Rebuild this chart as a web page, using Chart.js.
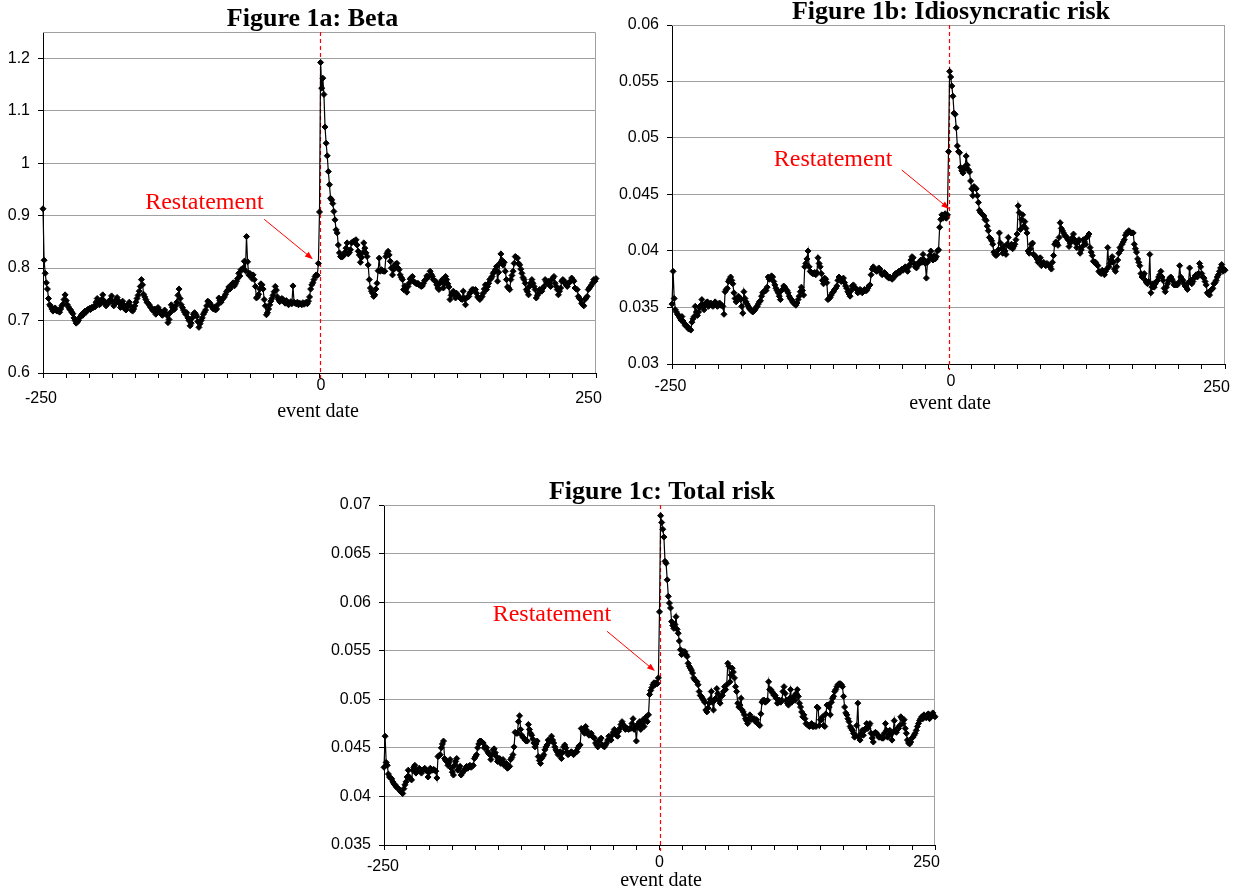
<!DOCTYPE html>
<html>
<head>
<meta charset="utf-8">
<title>Figure 1: Beta, idiosyncratic risk and total risk around restatements</title>
<script src="https://cdn.jsdelivr.net/npm/chart.js@4.4.0/dist/chart.umd.min.js"></script>
<style>
  html, body { margin: 0; padding: 0; background: #fff; }
  body { position: relative; width: 1241px; height: 893px; overflow: hidden; }
  canvas { position: absolute; }
</style>
</head>
<body>
<canvas id="beta" width="615" height="425" style="left:0;top:0"></canvas>
<canvas id="idio" width="626" height="425" style="left:615px;top:0"></canvas>
<canvas id="total" width="660" height="423" style="left:300px;top:470px"></canvas>
<script>
// event window: trading days relative to the restatement
const days = Array.from({ length: 501 }, (_, i) => i - 250);
const xTickLabels = ['-250', '0', '250'];

const betaTickLabels = ['0.6', '0.7', '0.8', '0.9', '1', '1.1', '1.2'];
const idioTickLabels = ['0.03', '0.035', '0.04', '0.045', '0.05', '0.055', '0.06'];
const totalTickLabels = ['0.035', '0.04', '0.045', '0.05', '0.055', '0.06', '0.065', '0.07'];

const betaValues = [
  // -250 .. -201
  0.913, 0.815, 0.790, 0.772, 0.760, 0.742, 0.730, 0.727, 0.722, 0.718,
  0.721, 0.724, 0.719, 0.718, 0.720, 0.716, 0.722, 0.728, 0.731, 0.740,
  0.749, 0.738, 0.730, 0.726, 0.722, 0.720, 0.716, 0.713, 0.705, 0.700,
  0.695, 0.697, 0.700, 0.705, 0.708, 0.712, 0.710, 0.715, 0.718, 0.716,
  0.720, 0.722, 0.723, 0.721, 0.725, 0.724, 0.727, 0.726, 0.735, 0.742,
  // -200 .. -151
  0.735, 0.730, 0.732, 0.740, 0.749, 0.738, 0.733, 0.728, 0.731, 0.736,
  0.735, 0.740, 0.747, 0.735, 0.728, 0.732, 0.740, 0.744, 0.738, 0.733,
  0.725, 0.730, 0.737, 0.730, 0.722, 0.720, 0.726, 0.730, 0.735, 0.728,
  0.720, 0.718, 0.722, 0.728, 0.735, 0.742, 0.748, 0.756, 0.765, 0.778,
  0.768, 0.750, 0.745, 0.740, 0.735, 0.733, 0.730, 0.726, 0.724, 0.720,
  // -150 .. -101
  0.718, 0.722, 0.712, 0.716, 0.725, 0.720, 0.718, 0.712, 0.710, 0.715,
  0.720, 0.714, 0.710, 0.696, 0.702, 0.715, 0.730, 0.725, 0.720, 0.722,
  0.728, 0.735, 0.748, 0.760, 0.742, 0.730, 0.725, 0.720, 0.716, 0.712,
  0.715, 0.705, 0.700, 0.690, 0.695, 0.705, 0.712, 0.715, 0.712, 0.708,
  0.698, 0.687, 0.694, 0.700, 0.705, 0.712, 0.716, 0.720, 0.728, 0.737,
  // -100 .. -51
  0.735, 0.733, 0.728, 0.725, 0.722, 0.726, 0.720, 0.722, 0.730, 0.743,
  0.738, 0.735, 0.740, 0.743, 0.745, 0.750, 0.755, 0.758, 0.764, 0.760,
  0.765, 0.770, 0.772, 0.766, 0.770, 0.775, 0.780, 0.790, 0.785, 0.797,
  0.797, 0.800, 0.813, 0.795, 0.860, 0.812, 0.787, 0.790, 0.785, 0.780,
  0.787, 0.778, 0.765, 0.743, 0.745, 0.750, 0.760, 0.770, 0.768, 0.760,
  // -50 .. -1
  0.740, 0.728, 0.711, 0.715, 0.722, 0.730, 0.737, 0.742, 0.748, 0.755,
  0.765, 0.758, 0.745, 0.740, 0.736, 0.738, 0.742, 0.740, 0.735, 0.733,
  0.738, 0.735, 0.730, 0.733, 0.736, 0.732, 0.766, 0.735, 0.733, 0.732,
  0.735, 0.730, 0.733, 0.732, 0.730, 0.734, 0.731, 0.733, 0.735, 0.732,
  0.737, 0.745, 0.760, 0.768, 0.772, 0.778, 0.784, 0.787, 0.786, 0.809,
  // 0
  0.907,
  // 1 .. 50
  1.192, 1.143, 1.162, 1.131, 1.069, 1.038, 1.014, 0.984, 0.959, 0.933,
  0.930, 0.923, 0.908, 0.892, 0.873, 0.867, 0.844, 0.829, 0.822, 0.821,
  0.822, 0.825, 0.830, 0.838, 0.848, 0.827, 0.830, 0.835, 0.848, 0.850,
  0.851, 0.852, 0.854, 0.844, 0.832, 0.825, 0.811, 0.820, 0.829, 0.848,
  0.838, 0.829, 0.822, 0.806, 0.778, 0.762, 0.756, 0.752, 0.746, 0.749,
  // 51 .. 100
  0.760, 0.771, 0.795, 0.819, 0.794, 0.797, 0.795, 0.794, 0.794, 0.822,
  0.828, 0.832, 0.825, 0.813, 0.800, 0.787, 0.797, 0.806, 0.808, 0.809,
  0.800, 0.797, 0.787, 0.782, 0.778, 0.759, 0.766, 0.760, 0.754, 0.765,
  0.771, 0.779, 0.782, 0.784, 0.775, 0.773, 0.771, 0.770, 0.771, 0.768,
  0.767, 0.765, 0.766, 0.771, 0.776, 0.778, 0.785, 0.783, 0.784, 0.794,
  // 101 .. 150
  0.788, 0.784, 0.778, 0.776, 0.775, 0.768, 0.762, 0.759, 0.771, 0.774,
  0.778, 0.762, 0.770, 0.784, 0.778, 0.770, 0.764, 0.740, 0.748, 0.752,
  0.756, 0.750, 0.743, 0.752, 0.748, 0.746, 0.743, 0.741, 0.740, 0.756,
  0.742, 0.730, 0.743, 0.745, 0.746, 0.752, 0.755, 0.759, 0.759, 0.758,
  0.759, 0.752, 0.745, 0.743, 0.740, 0.744, 0.746, 0.752, 0.760, 0.768,
  // 151 .. 200
  0.759, 0.765, 0.771, 0.778, 0.780, 0.784, 0.790, 0.793, 0.797, 0.803,
  0.775, 0.792, 0.809, 0.827, 0.815, 0.806, 0.811, 0.794, 0.778, 0.764,
  0.762, 0.759, 0.778, 0.786, 0.794, 0.809, 0.822, 0.820, 0.819, 0.809,
  0.806, 0.798, 0.790, 0.782, 0.778, 0.771, 0.759, 0.755, 0.749, 0.765,
  0.772, 0.778, 0.771, 0.765, 0.759, 0.743, 0.748, 0.752, 0.759, 0.756,
  // 201 .. 250
  0.756, 0.762, 0.765, 0.778, 0.774, 0.771, 0.775, 0.770, 0.765, 0.778,
  0.781, 0.784, 0.771, 0.765, 0.759, 0.749, 0.756, 0.762, 0.775, 0.778,
  0.776, 0.771, 0.768, 0.765, 0.771, 0.773, 0.775, 0.781, 0.778, 0.775,
  0.762, 0.760, 0.759, 0.746, 0.742, 0.740, 0.733, 0.730, 0.728, 0.740,
  0.743, 0.746, 0.759, 0.762, 0.765, 0.768, 0.772, 0.778, 0.775, 0.780
];

const idioValues = [
  // -250 .. -201
  0.0353, 0.0382, 0.0358, 0.0348, 0.0346, 0.0344, 0.0343, 0.0341, 0.0339, 0.0342,
  0.0338, 0.0336, 0.0334, 0.0334, 0.0333, 0.0331, 0.0331, 0.0330, 0.0337, 0.0340,
  0.0342, 0.0351, 0.0346, 0.0343, 0.0346, 0.0350, 0.0352, 0.0357, 0.0352, 0.0348,
  0.0352, 0.0354, 0.0355, 0.0351, 0.0353, 0.0354, 0.0352, 0.0351, 0.0352, 0.0355,
  0.0353, 0.0351, 0.0352, 0.0354, 0.0352, 0.0352, 0.0351, 0.0344, 0.0364, 0.0366,
  // -200 .. -151
  0.0367, 0.0373, 0.0375, 0.0377, 0.0374, 0.0371, 0.0363, 0.0358, 0.0355, 0.0358,
  0.0360, 0.0359, 0.0357, 0.0351, 0.0345, 0.0364, 0.0358, 0.0355, 0.0353, 0.0351,
  0.0349, 0.0348, 0.0347, 0.0346, 0.0347, 0.0348, 0.0350, 0.0351, 0.0353, 0.0355,
  0.0356, 0.0360, 0.0363, 0.0364, 0.0365, 0.0365, 0.0368, 0.0377, 0.0375, 0.0376,
  0.0378, 0.0377, 0.0373, 0.0370, 0.0367, 0.0365, 0.0363, 0.0360, 0.0357, 0.0365,
  // -150 .. -101
  0.0366, 0.0369, 0.0368, 0.0366, 0.0365, 0.0363, 0.0360, 0.0358, 0.0357, 0.0355,
  0.0354, 0.0353, 0.0352, 0.0354, 0.0357, 0.0360, 0.0364, 0.0368, 0.0365, 0.0361,
  0.0386, 0.0389, 0.0393, 0.0400, 0.0386, 0.0382, 0.0381, 0.0380, 0.0380, 0.0381,
  0.0379, 0.0381, 0.0394, 0.0389, 0.0386, 0.0380, 0.0374, 0.0371, 0.0376, 0.0375,
  0.0372, 0.0357, 0.0358, 0.0359, 0.0361, 0.0363, 0.0364, 0.0366, 0.0367, 0.0369,
  // -100 .. -51
  0.0374, 0.0377, 0.0376, 0.0373, 0.0375, 0.0376, 0.0372, 0.0369, 0.0367, 0.0364,
  0.0362, 0.0360, 0.0365, 0.0369, 0.0370, 0.0368, 0.0367, 0.0366, 0.0363, 0.0364,
  0.0366, 0.0365, 0.0363, 0.0364, 0.0366, 0.0365, 0.0365, 0.0367, 0.0369, 0.0370,
  0.0379, 0.0384, 0.0386, 0.0384, 0.0383, 0.0382, 0.0383, 0.0385, 0.0384, 0.0381,
  0.0379, 0.0380, 0.0381, 0.0380, 0.0378, 0.0377, 0.0376, 0.0377, 0.0376, 0.0375,
  // -50 .. -1
  0.0376, 0.0378, 0.0380, 0.0379, 0.0381, 0.0382, 0.0381, 0.0383, 0.0384, 0.0383,
  0.0385, 0.0386, 0.0384, 0.0382, 0.0386, 0.0388, 0.0392, 0.0395, 0.0394, 0.0389,
  0.0386, 0.0385, 0.0389, 0.0388, 0.0390, 0.0392, 0.0390, 0.0397, 0.0392, 0.0389,
  0.0376, 0.0390, 0.0392, 0.0396, 0.0400, 0.0394, 0.0392, 0.0396, 0.0393, 0.0395,
  0.0400, 0.0401, 0.0421, 0.0428, 0.0432, 0.0429, 0.0430, 0.0433, 0.0429, 0.0432,
  // 0
  0.0488,
  // 1 .. 50
  0.0559, 0.0554, 0.0546, 0.0537, 0.0522, 0.0521, 0.0509, 0.0493, 0.0488, 0.0487,
  0.0474, 0.0471, 0.0469, 0.0472, 0.0475, 0.0484, 0.0476, 0.0472, 0.0470, 0.0462,
  0.0455, 0.0449, 0.0457, 0.0456, 0.0455, 0.0449, 0.0443, 0.0436, 0.0434, 0.0433,
  0.0432, 0.0431, 0.0428, 0.0427, 0.0422, 0.0418, 0.0412, 0.0411, 0.0409, 0.0406,
  0.0399, 0.0397, 0.0396, 0.0397, 0.0401, 0.0416, 0.0407, 0.0402, 0.0398, 0.0404,
  // 51 .. 100
  0.0400, 0.0397, 0.0406, 0.0412, 0.0404, 0.0405, 0.0406, 0.0402, 0.0404, 0.0406,
  0.0410, 0.0415, 0.0440, 0.0434, 0.0419, 0.0428, 0.0432, 0.0422, 0.0426, 0.0420,
  0.0416, 0.0400, 0.0398, 0.0402, 0.0406, 0.0407, 0.0397, 0.0396, 0.0395, 0.0393,
  0.0390, 0.0392, 0.0394, 0.0387, 0.0388, 0.0390, 0.0388, 0.0387, 0.0389, 0.0388,
  0.0387, 0.0386, 0.0384, 0.0390, 0.0396, 0.0406, 0.0408, 0.0407, 0.0405, 0.0412,
  // 101 .. 150
  0.0425, 0.0420, 0.0418, 0.0416, 0.0414, 0.0413, 0.0412, 0.0410, 0.0404, 0.0407,
  0.0409, 0.0412, 0.0415, 0.0410, 0.0407, 0.0403, 0.0408, 0.0410, 0.0398, 0.0401,
  0.0404, 0.0410, 0.0408, 0.0406, 0.0412, 0.0413, 0.0415, 0.0403, 0.0399, 0.0396,
  0.0391, 0.0390, 0.0390, 0.0388, 0.0387, 0.0382, 0.0381, 0.0380, 0.0383, 0.0381,
  0.0379, 0.0382, 0.0384, 0.0403, 0.0386, 0.0389, 0.0392, 0.0395, 0.0390, 0.0384,
  // 151 .. 200
  0.0382, 0.0386, 0.0392, 0.0398, 0.0403, 0.0401, 0.0406, 0.0408, 0.0410, 0.0414,
  0.0416, 0.0416, 0.0418, 0.0417, 0.0416, 0.0416, 0.0416, 0.0406, 0.0402, 0.0399,
  0.0393, 0.0390, 0.0387, 0.0380, 0.0377, 0.0378, 0.0380, 0.0374, 0.0372, 0.0371,
  0.0373, 0.0397, 0.0363, 0.0368, 0.0371, 0.0368, 0.0371, 0.0373, 0.0374, 0.0377,
  0.0379, 0.0382, 0.0377, 0.0374, 0.0367, 0.0364, 0.0368, 0.0371, 0.0374, 0.0376,
  // 201 .. 250
  0.0377, 0.0375, 0.0373, 0.0370, 0.0370, 0.0370, 0.0370, 0.0372, 0.0387, 0.0377,
  0.0375, 0.0374, 0.0371, 0.0369, 0.0368, 0.0366, 0.0372, 0.0385, 0.0374, 0.0371,
  0.0373, 0.0376, 0.0378, 0.0379, 0.0377, 0.0380, 0.0389, 0.0386, 0.0380, 0.0377,
  0.0376, 0.0373, 0.0370, 0.0363, 0.0362, 0.0361, 0.0365, 0.0366, 0.0367, 0.0371,
  0.0372, 0.0374, 0.0377, 0.0379, 0.0382, 0.0385, 0.0388, 0.0382, 0.0384, 0.0383
];

const totalValues = [
  // -250 .. -201
  0.0430, 0.0462, 0.0435, 0.0432, 0.0423, 0.0420, 0.0419, 0.0418, 0.0415, 0.0413,
  0.0412, 0.0410, 0.0409, 0.0408, 0.0407, 0.0405, 0.0404, 0.0403, 0.0408, 0.0412,
  0.0415, 0.0420, 0.0427, 0.0420, 0.0418, 0.0417, 0.0427, 0.0430, 0.0432, 0.0424,
  0.0426, 0.0427, 0.0429, 0.0426, 0.0424, 0.0427, 0.0428, 0.0429, 0.0427, 0.0426,
  0.0420, 0.0425, 0.0429, 0.0427, 0.0427, 0.0428, 0.0427, 0.0426, 0.0419, 0.0441,
  // -200 .. -151
  0.0442, 0.0443, 0.0450, 0.0454, 0.0457, 0.0439, 0.0437, 0.0436, 0.0432, 0.0435,
  0.0438, 0.0429, 0.0425, 0.0422, 0.0432, 0.0436, 0.0439, 0.0427, 0.0429, 0.0431,
  0.0422, 0.0424, 0.0426, 0.0427, 0.0429, 0.0431, 0.0429, 0.0431, 0.0432, 0.0430,
  0.0431, 0.0432, 0.0439, 0.0441, 0.0443, 0.0450, 0.0454, 0.0457, 0.0457, 0.0456,
  0.0455, 0.0450, 0.0451, 0.0450, 0.0446, 0.0444, 0.0443, 0.0438, 0.0443, 0.0448,
  // -150 .. -101
  0.0449, 0.0445, 0.0441, 0.0436, 0.0438, 0.0439, 0.0434, 0.0436, 0.0438, 0.0432,
  0.0433, 0.0434, 0.0429, 0.0430, 0.0431, 0.0438, 0.0440, 0.0443, 0.0451, 0.0466,
  0.0465, 0.0465, 0.0477, 0.0483, 0.0469, 0.0463, 0.0461, 0.0460, 0.0458, 0.0457,
  0.0457, 0.0474, 0.0469, 0.0465, 0.0463, 0.0459, 0.0455, 0.0451, 0.0454, 0.0457,
  0.0441, 0.0437, 0.0434, 0.0439, 0.0441, 0.0443, 0.0448, 0.0451, 0.0453, 0.0458,
  // -100 .. -51
  0.0457, 0.0457, 0.0462, 0.0458, 0.0455, 0.0451, 0.0448, 0.0446, 0.0443, 0.0444,
  0.0446, 0.0439, 0.0445, 0.0451, 0.0453, 0.0450, 0.0446, 0.0443, 0.0444, 0.0445,
  0.0446, 0.0445, 0.0443, 0.0445, 0.0446, 0.0446, 0.0450, 0.0452, 0.0453, 0.0470,
  0.0469, 0.0467, 0.0465, 0.0472, 0.0468, 0.0465, 0.0463, 0.0464, 0.0465, 0.0462,
  0.0461, 0.0460, 0.0455, 0.0453, 0.0451, 0.0457, 0.0458, 0.0460, 0.0453, 0.0452,
  // -50 .. -1
  0.0451, 0.0453, 0.0455, 0.0458, 0.0462, 0.0460, 0.0458, 0.0463, 0.0466, 0.0469,
  0.0465, 0.0463, 0.0462, 0.0467, 0.0470, 0.0474, 0.0477, 0.0474, 0.0472, 0.0469,
  0.0470, 0.0470, 0.0469, 0.0470, 0.0470, 0.0475, 0.0480, 0.0469, 0.0472, 0.0457,
  0.0472, 0.0475, 0.0477, 0.0469, 0.0474, 0.0479, 0.0472, 0.0478, 0.0482, 0.0477,
  0.0484, 0.0505, 0.0509, 0.0512, 0.0515, 0.0517, 0.0515, 0.0517, 0.0516, 0.0522,
  // 0
  0.0590,
  // 1 .. 50
  0.0689, 0.0682, 0.0675, 0.0667, 0.0642, 0.0640, 0.0623, 0.0606, 0.0599, 0.0594,
  0.0580, 0.0576, 0.0573, 0.0577, 0.0585, 0.0572, 0.0568, 0.0560, 0.0551, 0.0546,
  0.0549, 0.0549, 0.0549, 0.0546, 0.0544, 0.0537, 0.0534, 0.0532, 0.0530, 0.0527,
  0.0522, 0.0520, 0.0519, 0.0518, 0.0515, 0.0508, 0.0504, 0.0503, 0.0501, 0.0499,
  0.0497, 0.0489, 0.0487, 0.0491, 0.0496, 0.0500, 0.0508, 0.0497, 0.0489, 0.0499,
  // 51 .. 100
  0.0501, 0.0511, 0.0506, 0.0499, 0.0496, 0.0503, 0.0504, 0.0508, 0.0513, 0.0510,
  0.0515, 0.0537, 0.0534, 0.0518, 0.0525, 0.0532, 0.0528, 0.0522, 0.0513, 0.0508,
  0.0496, 0.0492, 0.0494, 0.0501, 0.0489, 0.0487, 0.0484, 0.0480, 0.0478, 0.0475,
  0.0480, 0.0484, 0.0479, 0.0480, 0.0480, 0.0480, 0.0477, 0.0479, 0.0475, 0.0474,
  0.0473, 0.0485, 0.0497, 0.0499, 0.0499, 0.0497, 0.0498, 0.0499, 0.0518, 0.0510,
  // 101 .. 150
  0.0510, 0.0508, 0.0506, 0.0504, 0.0504, 0.0501, 0.0496, 0.0497, 0.0499, 0.0497,
  0.0499, 0.0508, 0.0513, 0.0506, 0.0499, 0.0496, 0.0494, 0.0501, 0.0510, 0.0497,
  0.0499, 0.0503, 0.0499, 0.0506, 0.0510, 0.0503, 0.0496, 0.0492, 0.0487, 0.0482,
  0.0484, 0.0480, 0.0475, 0.0474, 0.0473, 0.0472, 0.0473, 0.0475, 0.0472, 0.0472,
  0.0473, 0.0472, 0.0492, 0.0491, 0.0473, 0.0479, 0.0479, 0.0482, 0.0473, 0.0472,
  // 151 .. 200
  0.0485, 0.0494, 0.0494, 0.0492, 0.0484, 0.0497, 0.0501, 0.0503, 0.0508, 0.0510,
  0.0513, 0.0515, 0.0516, 0.0516, 0.0515, 0.0513, 0.0503, 0.0492, 0.0486, 0.0484,
  0.0480, 0.0477, 0.0472, 0.0470, 0.0468, 0.0465, 0.0461, 0.0463, 0.0473, 0.0496,
  0.0461, 0.0458, 0.0465, 0.0468, 0.0463, 0.0468, 0.0470, 0.0475, 0.0470, 0.0473,
  0.0475, 0.0465, 0.0460, 0.0456, 0.0465, 0.0466, 0.0465, 0.0463, 0.0461, 0.0461,
  // 201 .. 250
  0.0461, 0.0460, 0.0460, 0.0465, 0.0475, 0.0468, 0.0461, 0.0463, 0.0468, 0.0465,
  0.0458, 0.0466, 0.0478, 0.0468, 0.0466, 0.0470, 0.0470, 0.0473, 0.0482, 0.0480,
  0.0475, 0.0479, 0.0470, 0.0465, 0.0458, 0.0455, 0.0454, 0.0456, 0.0460, 0.0461,
  0.0463, 0.0465, 0.0468, 0.0472, 0.0475, 0.0478, 0.0480, 0.0482, 0.0480, 0.0484,
  0.0482, 0.0481, 0.0484, 0.0485, 0.0480, 0.0482, 0.0484, 0.0486, 0.0483, 0.0482
];

// minor tick marks on the event-date axis (24 intervals across the window)
const xMarks = Array.from({ length: 25 }, (_, i) => -250 + i * 250 / 12);

// frame, event line, titles, axis labels and the "Restatement" arrow
const decor = {
  id: 'decor',
  beforeDatasetsDraw(chart, args, o) {
    const { ctx, chartArea: a, scales: { x } } = chart;
    ctx.save();
    ctx.strokeStyle = '#a0a0a0';
    ctx.lineWidth = 1;
    ctx.beginPath();
    ctx.moveTo(a.left, a.top + 0.5);
    ctx.lineTo(a.right - 0.5, a.top + 0.5);
    ctx.lineTo(a.right - 0.5, a.bottom);
    ctx.stroke();

    const ex = Math.round(x.getPixelForValue(0)) + 0.5;
    ctx.strokeStyle = '#ff0000';
    ctx.lineWidth = 1.2;
    ctx.setLineDash([4, 3]);
    ctx.beginPath();
    ctx.moveTo(ex, a.top);
    ctx.lineTo(ex, a.bottom + 6);
    ctx.stroke();
    ctx.restore();
  },
  afterDraw(chart, args, o) {
    const { ctx, chartArea: a, scales: { x, y } } = chart;
    const mid = (a.left + a.right) / 2;
    ctx.save();
    ctx.fillStyle = '#000';
    ctx.textAlign = 'center';

    ctx.font = 'bold 26px "Liberation Serif"';
    ctx.textBaseline = 'alphabetic';
    ctx.fillText(o.title, mid + o.titleDx, a.top - 6);

    ctx.font = '16px "Liberation Sans"';
    ctx.textBaseline = 'middle';
    xTickLabels.forEach((t, i) => {
      ctx.fillText(t, x.getPixelForValue(Number(t)) + o.labelDx[i], a.bottom + o.labelDy[i]);
    });

    ctx.font = '20px "Liberation Serif"';
    ctx.textBaseline = 'alphabetic';
    ctx.fillText('event date', mid + o.dateDx, a.bottom + o.dateDy);

    ctx.fillStyle = '#ff0000';
    ctx.strokeStyle = '#ff0000';
    ctx.font = '24px "Liberation Serif"';
    ctx.textBaseline = 'middle';
    ctx.fillText('Restatement', x.getPixelForValue(o.note[0]), y.getPixelForValue(o.note[1]));

    const x1 = x.getPixelForValue(o.from[0]), y1 = y.getPixelForValue(o.from[1]);
    const x2 = x.getPixelForValue(o.to[0]), y2 = y.getPixelForValue(o.to[1]);
    const ang = Math.atan2(y2 - y1, x2 - x1);
    ctx.lineWidth = 1;
    ctx.beginPath();
    ctx.moveTo(x1, y1);
    ctx.lineTo(x2 - 4 * Math.cos(ang), y2 - 4 * Math.sin(ang));
    ctx.stroke();
    ctx.beginPath();
    ctx.moveTo(x2, y2);
    ctx.lineTo(x2 - 8 * Math.cos(ang) + 3 * Math.sin(ang), y2 - 8 * Math.sin(ang) - 3 * Math.cos(ang));
    ctx.lineTo(x2 - 8 * Math.cos(ang) - 3 * Math.sin(ang), y2 - 8 * Math.sin(ang) + 3 * Math.cos(ang));
    ctx.closePath();
    ctx.fill();
    ctx.restore();
  }
};

function makeChart(id, values, tickLabels, yMin, yMax, area, deco) {
  const cv = document.getElementById(id);
  const tickValues = tickLabels.map(Number);
  return new Chart(cv, {
    type: 'line',
    data: {
      datasets: [{
        data: days.map((d, i) => ({ x: d, y: values[i] })),
        borderColor: '#000',
        borderWidth: 1.2,
        pointStyle: 'rectRot',
        pointRadius: 3,
        pointBorderWidth: 1,
        pointBackgroundColor: '#000',
        pointBorderColor: '#000',
        tension: 0,
        clip: false
      }]
    },
    options: {
      responsive: false,
      animation: false,
      devicePixelRatio: 1,
      layout: { padding: { left: 0, top: area.top, right: cv.width - area.right, bottom: 0 } },
      plugins: {
        legend: { display: false },
        tooltip: { enabled: false },
        decor: deco
      },
      scales: {
        x: {
          type: 'linear',
          min: -250,
          max: 250,
          afterBuildTicks: s => { s.ticks = xMarks.map(v => ({ value: v })); },
          afterFit: s => { s.height = cv.height - area.bottom; },
          ticks: { display: false },
          grid: { drawOnChartArea: false, tickLength: 5, color: '#000', tickColor: '#000' },
          border: { color: '#000' }
        },
        y: {
          min: yMin,
          max: yMax,
          afterBuildTicks: s => { s.ticks = tickValues.map(v => ({ value: v })); },
          afterFit: s => { s.width = area.left; },
          ticks: {
            callback: (v, i) => tickLabels[i],
            padding: 8,
            color: '#000',
            font: { family: 'Liberation Sans', size: 16 }
          },
          grid: { color: '#a0a0a0', tickLength: 5, tickColor: '#000' },
          border: { color: '#000' }
        }
      }
    },
    plugins: [decor]
  });
}

makeChart('beta', betaValues, betaTickLabels, 0.6, 1.25,
  { left: 43, top: 32, right: 596, bottom: 373 },
  {
    title: 'Figure 1a: Beta', titleDx: -7,
    labelDx: [-2, 1.5, -7.5], labelDy: [25.5, 13, 25.5],
    dateDx: -1.5, dateDy: 43.5,
    note: [-104, 0.924], from: [-50, 0.893], to: [-6, 0.817]
  });

makeChart('idio', idioValues, idioTickLabels, 0.03, 0.06,
  { left: 57, top: 25, right: 610, bottom: 364 },
  {
    title: 'Figure 1b: Idiosyncratic risk', titleDx: 2.5,
    labelDx: [-1.5, 2.5, -8.5], labelDy: [23, 18, 23.5],
    dateDx: 1.5, dateDy: 45,
    note: [-104.4, 0.04805], from: [-42.3, 0.04717], to: [0.7, 0.04372]
  });

makeChart('total', totalValues, totalTickLabels, 0.035, 0.07,
  { left: 84, top: 35, right: 635, bottom: 375 },
  {
    title: 'Figure 1c: Total risk', titleDx: 2.5,
    labelDx: [-1, 0, -8.5], labelDy: [22, 18, 18],
    dateDx: 1.5, dateDy: 41,
    note: [-97.6, 0.0587], from: [-47.6, 0.0570], to: [-4.1, 0.0529]
  });
</script>
</body>
</html>
